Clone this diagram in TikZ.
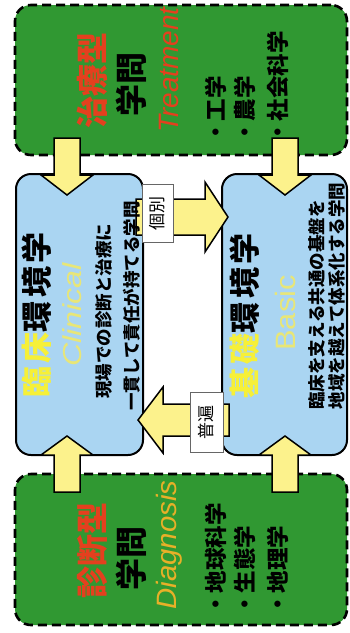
\documentclass[tikz,border=0pt]{standalone}
\usepackage{fontspec}
\setmainfont{Liberation Sans}
\newfontfamily\jp{Noto Sans CJK JP}
\newfontfamily\jpsp[LetterSpace=10]{Noto Sans CJK JP}
\usetikzlibrary{calc}
\definecolor{grn}{RGB}{48,152,50}
\definecolor{lblue}{RGB}{170,213,242}
\definecolor{ayel}{RGB}{252,242,140}
\definecolor{tyel}{RGB}{246,240,56}
\definecolor{redt}{RGB}{228,64,30}
\definecolor{diagc}{RGB}{232,176,40}
\definecolor{latyel}{RGB}{232,230,120}
\newcommand{\yDown}[1]{\draw[yarrow] ($(#1)+(-13,0)$) -- ++(0,37) -- ++(-13,0) -- ++(26,20) -- ++(26,-20) -- ++(-13,0) -- ++(0,-37) -- cycle;}
\newcommand{\yUp}[1]{\draw[yarrow] ($(#1)+(-13,0)$) -- ++(0,-37) -- ++(-13,0) -- ++(26,-19) -- ++(26,19) -- ++(-13,0) -- ++(0,37) -- cycle;}
\begin{document}
\begin{tikzpicture}[x=1pt,y=-1pt,
  greenbox/.style={draw=black, fill=grn, line width=2.6pt, dash pattern=on 9pt off 5pt, rounded corners=16pt, inner sep=0pt},
  bluebox/.style={draw=black, fill=lblue, line width=2pt, rounded corners=15pt, inner sep=0pt},
  yarrow/.style={draw=black, fill=ayel, line width=1.5pt, line join=miter},
  vt/.style={rotate=90, inner sep=0pt},
  headjp/.style={vt, font=\jp\bfseries\fontsize{32}{32}\selectfont},
  latin/.style={vt, font=\itshape\fontsize{28}{28}\selectfont},
  listjp/.style={vt, anchor=west, font=\jp\bfseries\fontsize{22.5}{22.5}\selectfont},
  title/.style={vt, font=\jpsp\bfseries\fontsize{31}{31}\selectfont},
  desc/.style={vt, font=\jp\bfseries\fontsize{17.5}{17.5}\selectfont},
  lab/.style={rotate=90, draw=black!60, fill=white, line width=0.8pt, inner sep=0pt, font=\jp\fontsize{17}{17}\selectfont}
]
\useasboundingbox (0,0) rectangle (350,633);
\fill[white] (0,0) rectangle (350,633);

% green boxes
\node[greenbox, minimum width=332pt, minimum height=150pt] (treat) at (181,80) {};
\node[greenbox, minimum width=332pt, minimum height=151pt] (diag) at (181,549.5) {};

% blue boxes
\node[bluebox, minimum width=127pt, minimum height=281pt] (clin) at (79.5,314.5) {};
\node[bluebox, minimum width=125pt, minimum height=281pt] (basic) at (284.5,314.5) {};

% vertical arrows
\coordinate (d1) at (67,138);
\coordinate (d2) at (285,138);
\coordinate (u1) at (67,492);
\coordinate (u2) at (285,492);
\yDown{d1}
\yDown{d2}
\yUp{u1}
\yUp{u2}

% horizontal arrows
\coordinate (r1) at (136,217);
\coordinate (l1) at (229,420);
\draw[yarrow] ($(r1)+(0,-18)$) -- ++(69,0) -- ++(0,-17) -- ++(23,35) -- ++(-23,35) -- ++(0,-17) -- ++(-69,0) -- cycle;
\draw[yarrow] ($(l1)+(0,-16)$) -- ++(-66,0) -- ++(0,-17) -- ++(-25,33) -- ++(25,33) -- ++(0,-17) -- ++(66,0) -- cycle;

\node[lab, minimum width=58pt, minimum height=31pt] (kobetsu) at (157.5,213) {個別};
\node[lab, minimum width=60pt, minimum height=33pt] (fuhen) at (206.5,422) {普遍};

% top green box texts
\node[headjp, text=redt] (t1) at (92,80) {治療型};
\node[headjp] (t2) at (131,84) {学問};
\node[latin, text=redt] (t3) at (169.5,70) {Treatment};
\node[listjp] (t4) at (216,144) {・工学};
\node[listjp] (t5) at (245,144) {・農学};
\node[listjp] (t6) at (277.5,144) {・社会科学};

% bottom green box texts
\node[headjp, text=redt] (b1) at (92,550) {診断型};
\node[headjp] (b2) at (131,558) {学問};
\node[latin, text=diagc, xscale=1.05] (b3) at (169.5,545) {Diagnosis};
\node[listjp] (b4) at (216,616) {・地球科学};
\node[listjp] (b5) at (245,616) {・生態学};
\node[listjp] (b6) at (277.5,616) {・地理学};

% clinical box texts
\node[title] (c1) at (37,315) {{\color{tyel}臨床}環境学};
\node[vt, text=latyel, font=\itshape\fontsize{26}{26}\selectfont, xscale=1.24] (c2) at (72,315) {Clinical};
\node[desc] (c3) at (104,311) {現場での診断と治療に};
\node[desc] (c4) at (132,306) {一貫して責任が持てる学問};

% basic box texts
\node[title] (s1) at (245,316) {{\color{tyel}基礎}環境学};
\node[vt, text=latyel, font=\fontsize{28}{28}\selectfont, xscale=1.1] (s2) at (285,313) {Basic};
\node[desc] (s3) at (317,305) {臨床を支える共通の基盤を};
\node[desc] (s4) at (337,296) {地域を越えて体系化する学問};
\end{tikzpicture}
\end{document}
